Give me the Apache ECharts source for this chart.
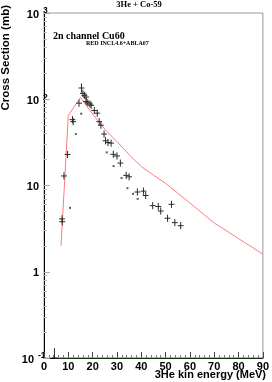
<!DOCTYPE html>
<html><head><meta charset="utf-8">
<script src="https://cdn.jsdelivr.net/npm/echarts@6/dist/echarts.min.js"></script>
<style>html,body{margin:0;padding:0;background:#fff}#c{width:272px;height:382px}</style>
</head><body><div id="c"></div>
<script>
const titleText = '3He + Co-59';
const channelText = '2n channel Cu60';
const modelText = 'RED INCL4.6+ABLA07';
const xName = '3He kin energy (MeV)';
const yName = 'Cross Section (mb)';

const xTicks = [0, 10, 20, 30, 40, 50, 60, 70, 80, 90];
const xMinorTicks = [2, 4, 6, 8, 12, 14, 16, 18, 22, 24, 26, 28, 32, 34, 36, 38, 42, 44, 46, 48, 52, 54, 56, 58, 62, 64, 66, 68, 72, 74, 76, 78, 82, 84, 86, 88];
const yTicks = [0.1, 1, 10, 100, 1000];
const yTickBase = ['10', '1', '10', '10', '10'];
const yTickExp = ['-1', '', '', '2', '3'];
const yMinorTicks = [0.2, 0.3, 0.4, 0.5, 0.6, 0.7, 0.8, 0.9, 2, 3, 4, 5, 6, 7, 8, 9, 20, 30, 40, 50, 60, 70, 80, 90, 200, 300, 400, 500, 600, 700, 800, 900];

// INCL4.6+ABLA07 model curve
const modelE  = [7, 10, 15, 20, 25, 30, 35, 40, 45, 50, 55, 60, 65, 70, 75, 80, 85, 90];
const modelXS = [2.0, 65, 105, 67.5, 45, 32.2, 22.8, 16.6, 13.2, 10.6, 8.15, 6.27, 4.8, 3.67, 2.99, 2.42, 1.97, 1.6];

// experimental data with error bars (crosses)
const expE   = [4.3, 7.4, 7.5, 8.2, 9.7, 11.7, 12.0, 14.4, 15.4, 16.0, 16.6, 17.3, 17.3, 18.0, 18.9, 19.4, 20.7, 21.9, 22.7, 23.4, 24.7, 25.3, 26.3, 27.6, 28.5, 30.0, 31.4, 33.8, 35.0, 38.4, 40.9, 41.8, 44.7, 47.0, 48.0, 50.8, 52.4, 53.8, 56.2];
const expXS  = [0.1, 4.1, 3.8, 12.9, 22.9, 58, 55, 90, 135, 117, 111, 106, 94, 91, 88, 85, 74, 69, 55, 50, 39.5, 33, 31.5, 31, 23, 22, 18.2, 13.1, 12.6, 8.4, 8.6, 7.65, 5.84, 5.71, 5.06, 4.17, 6.05, 3.71, 3.42];
const expErr = [0.3, 0.1, 0.1, 0.1, 0.1, 0.1, 0.1, 0.1, 0.13, 0.1, 0.1, 0.1, 0.1, 0.1, 0.1, 0.1, 0.1, 0.1, 0.1, 0.1, 0.1, 0.1, 0.1, 0.1, 0.1, 0.1, 0.1, 0.1, 0.1, 0.1, 0.1, 0.1, 0.1, 0.1, 0.1, 0.1, 0.1, 0.1, 0.1];
const expEHalf = 1.2;

// second experimental set (small dots)
const dotE  = [10.7, 13.1, 15.3, 25.8, 28.6, 31.9, 34.3, 36.6, 38.5];
const dotXS = [5.5, 39.5, 68, 24.2, 16.8, 12.2, 9.3, 8.0, 7.0];

// green curve (below axis range)
const greenE  = [4.5, 90];
const greenXS = [0.1, 0.1];

const chart = echarts.init(document.getElementById('c'), null, {renderer: 'canvas'});
const sans = '"Liberation Sans", Arial, sans-serif';
const serif = '"Liberation Serif", "Times New Roman", serif';

const baseGraphics = [
  {type: 'text', x: 139, y: 5, style: {text: titleText, font: 'bold 8.5px ' + serif, fill: '#000', align: 'center', verticalAlign: 'middle'}},
  {type: 'text', x: 53, y: 36, style: {text: channelText, font: 'bold 10px ' + serif, fill: '#000', align: 'left', verticalAlign: 'middle'}},
  {type: 'text', x: 86, y: 43.5, style: {text: modelText, font: 'bold 6px ' + serif, fill: '#000', align: 'left', verticalAlign: 'middle'}},
  {type: 'text', x: 266, y: 375, style: {text: xName, font: 'bold 11px ' + sans, fill: '#000', align: 'right', verticalAlign: 'middle'}},
  {type: 'text', x: 6, y: 5, rotation: Math.PI / 2, style: {text: yName, font: 'bold 11.5px ' + sans, fill: '#000', align: 'right', verticalAlign: 'middle'}}
];

const option = {
  animation: false,
  grid: {left: 44, right: 6, top: 13, bottom: 24, show: true, borderColor: '#999', borderWidth: 1},
  xAxis: [{
    type: 'value', min: 0, max: 90, interval: 10,
    axisLine: {lineStyle: {color: '#000', width: 1}},
    axisTick: {inside: true, length: 6, lineStyle: {color: '#444'}, customValues: xTicks},
    axisLabel: {customValues: xTicks, margin: 3, color: '#000', fontFamily: sans, fontWeight: 'bold', fontSize: 11},
    splitLine: {show: false}
  }, {
    type: 'value', min: 0, max: 90, position: 'bottom',
    axisLine: {show: false},
    axisTick: {inside: true, length: 3, lineStyle: {color: '#777'}, customValues: xMinorTicks},
    axisLabel: {show: false},
    splitLine: {show: false}
  }],
  yAxis: [{
    type: 'log', logBase: 10, min: 0.1, max: 1000,
    axisLine: {show: true, lineStyle: {color: '#000', width: 1}},
    axisTick: {inside: true, length: 6, lineStyle: {color: '#aaa'}, customValues: yTicks},
    axisLabel: {show: false},
    splitLine: {show: false}
  }, {
    type: 'log', logBase: 10, min: 0.1, max: 1000, position: 'left',
    axisLine: {show: false},
    axisTick: {inside: true, length: 3, lineStyle: {color: '#bbb'}, customValues: yMinorTicks},
    axisLabel: {show: false},
    splitLine: {show: false}
  }],
  graphic: baseGraphics,
  series: [
    {
      type: 'line', name: 'green', data: greenE.map((e, i) => [e, greenXS[i]]),
      showSymbol: false, lineStyle: {color: '#4c4', width: 1}, z: 3
    },
    {
      type: 'line', name: 'model', data: modelE.map((e, i) => [e, modelXS[i]]),
      showSymbol: false, lineStyle: {color: '#ff7a7a', width: 1}, z: 2
    },
    {
      type: 'custom', name: 'exp', clip: true, z: 4,
      data: expE.map((e, i) => [e, expXS[i], expErr[i]]),
      encode: {x: 0, y: 1},
      renderItem: function (params, api) {
        const x = api.value(0), y = api.value(1), r = api.value(2);
        const c = api.coord([x, y]);
        const l = api.coord([x - expEHalf, y]);
        const rr = api.coord([x + expEHalf, y]);
        const lo = api.coord([x, y / (1 + r)]);
        const hi = api.coord([x, y * (1 + r)]);
        const st = {stroke: '#2a2a2a', lineWidth: 1};
        const cs = params.coordSys;
        return {
          type: 'group',
          clipPath: {type: 'rect', shape: {x: cs.x, y: cs.y, width: cs.width, height: cs.height}},
          children: [
            {type: 'line', shape: {x1: l[0], y1: c[1], x2: rr[0], y2: c[1]}, style: st},
            {type: 'line', shape: {x1: c[0], y1: lo[1], x2: c[0], y2: hi[1]}, style: st}
          ]
        };
      }
    },
    {
      type: 'scatter', name: 'dots', data: dotE.map((e, i) => [e, dotXS[i]]),
      symbol: 'rect', symbolSize: 2, itemStyle: {color: '#333'}, z: 4
    }
  ]
};
chart.setOption(option);

// y tick labels (10 with exponent), placed through the axis scale
const labelGraphics = [];
yTicks.forEach((t, i) => {
  const py = chart.convertToPixel({yAxisIndex: 0}, t);
  const hasExp = yTickExp[i] !== '';
  const baseRight = (yTickExp[i] === '-1') ? 34 : 39;
  labelGraphics.push({type: 'text', x: baseRight, y: py + 1.5, style: {text: yTickBase[i], font: 'bold 11px ' + sans, fill: '#000', align: 'right', verticalAlign: 'middle'}});
  if (hasExp) {
    labelGraphics.push({type: 'text', x: baseRight + 4, y: py - 2, style: {text: yTickExp[i], font: 'bold 8.5px ' + sans, fill: '#000', align: 'left', verticalAlign: 'middle'}});
  }
});
chart.setOption({graphic: baseGraphics.concat(labelGraphics)});
</script>
</body></html>
